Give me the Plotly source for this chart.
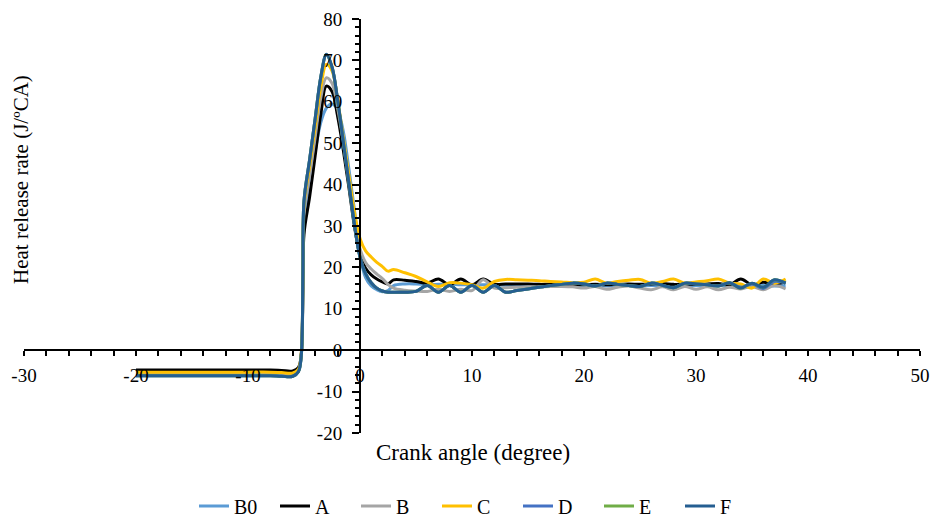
import plotly.graph_objects as go

# Crank angle grid (degree)
crank_angle = [-20, -18, -16, -14, -12, -10, -8, -7, -6, -5.5, -5.25, -5.1, -5,
               -4.5, -4, -3.5, -3, -2.5, -2, -1.5, -1, -0.5, 0,
               0.5, 1, 1.5, 2, 2.5, 3,
               4, 5, 6, 7, 8, 9, 10, 11, 12, 13, 14, 15, 16, 17, 18, 19, 20,
               21, 22, 23, 24, 25, 26, 27, 28, 29, 30, 31, 32, 33, 34, 35, 36, 37, 38]

hrr_B0 = [-6.0, -6.0, -6.0, -6.0, -6.0, -6.0, -6.0, -6.1, -6.2, -5.0, -1.5, 15, 30,
          39, 48, 55, 58.5, 59.5, 58, 53, 44, 34, 23,
          17.5, 15.5, 14.6, 14.1, 14.4, 15.6,
          16.0, 16.0, 15.9, 15.9, 15.9, 15.8, 15.8, 15.8, 15.8, 15.7, 15.7, 15.7, 15.6, 15.6, 15.6, 15.5, 15.5,
          15.6, 15.5, 15.6, 15.6, 15.5, 15.6, 15.5, 15.6, 15.5, 15.6, 15.5, 15.6, 15.5, 15.6, 15.5, 15.6, 15.5, 15.6]

hrr_A = [-4.8, -4.8, -4.8, -4.8, -4.8, -4.8, -4.8, -4.9, -5.0, -4.2, -1.0, 14, 28,
         37, 47, 57, 63.8, 62.5, 56.5, 48.5, 39.5, 30, 23,
         19.8, 18.2, 17.2, 16.5, 16.0, 17.0,
         16.9, 16.6, 16.2, 17.2, 15.8, 17.2, 15.8, 17.2, 15.9, 16.0, 16.0, 16.0, 15.9, 15.9, 15.8, 15.8, 15.8,
         15.9, 15.8, 15.9, 16.0, 15.9, 16.0, 16.1, 15.9, 16.0, 15.9, 16.0, 16.1, 15.8, 17.2, 15.8, 16.4, 16.0, 16.5]

hrr_B = [-5.5, -5.5, -5.5, -5.5, -5.5, -5.5, -5.5, -5.6, -5.7, -4.8, -1.2, 16, 33,
         42, 51.5, 61, 65.8, 64.5, 58.5, 50.5, 41.5, 32, 24.5,
         21.2, 19.6, 18.4, 17.3, 15.9, 15.0,
         14.5, 14.3, 14.2, 14.7, 14.2, 14.7, 14.4, 17.0, 15.0, 15.1, 15.2, 15.3, 15.3, 15.4, 15.4, 15.3, 15.0,
         15.4, 14.7, 15.2, 15.5, 15.0, 14.6, 15.3, 14.6, 15.4, 14.7, 15.3, 14.6, 15.2, 14.8, 15.4, 14.6, 15.6, 14.8]

hrr_C = [-5.3, -5.3, -5.3, -5.3, -5.3, -5.3, -5.3, -5.4, -5.5, -4.6, -1.0, 17, 35,
         44.5, 54, 63.5, 69, 67.5, 60.5, 51.5, 42.5, 33.5, 27,
         24, 22.5, 21.2, 20.2, 19.1, 19.5,
         18.7, 17.8, 16.5, 15.4, 16.3, 16.2, 15.8, 15.0, 16.6, 17.1, 17.0, 16.9, 16.8, 16.6, 16.5, 16.3, 16.4,
         17.2, 16.2, 16.6, 16.9, 17.1, 16.2, 16.6, 17.2, 16.2, 16.5, 16.8, 17.2, 16.2, 16.0, 15.0, 17.2, 16.2, 17.2]

hrr_D = [-6.2, -6.2, -6.2, -6.2, -6.2, -6.2, -6.2, -6.3, -6.3, -5.2, -1.5, 18, 36,
         46, 56, 66, 71.3, 68.3, 60.5, 50.5, 40.5, 30.5, 22.5,
         18.5, 16.3, 15.0, 14.3, 14.0, 14.0,
         14.0, 14.2, 15.6, 14.0, 15.6, 14.0, 15.6, 14.0, 15.6, 14.0, 14.4, 14.8, 15.2, 15.6, 15.9, 16.2, 16.0,
         15.5, 16.2, 15.9, 15.6, 15.4, 16.2, 15.7, 15.1, 16.2, 16.0, 15.8, 15.5, 16.3, 15.2, 16.0, 14.9, 16.6, 16.2]

hrr_E = [-6.2, -6.2, -6.2, -6.2, -6.2, -6.2, -6.2, -6.3, -6.3, -5.2, -1.5, 18, 36,
         46, 56, 66, 71.4, 68.4, 60.5, 50.5, 40.5, 30.5, 22.5,
         18.5, 16.3, 15.0, 14.3, 14.0, 14.0,
         14.0, 14.2, 15.6, 14.0, 15.6, 14.0, 15.6, 14.0, 15.6, 14.0, 14.4, 14.8, 15.2, 15.6, 15.9, 16.2, 16.0,
         15.5, 16.2, 15.9, 15.6, 15.4, 16.2, 15.7, 15.1, 16.2, 16.0, 15.8, 15.5, 16.3, 15.0, 16.2, 15.2, 17.0, 16.2]

hrr_F = [-6.2, -6.2, -6.2, -6.2, -6.2, -6.2, -6.2, -6.3, -6.3, -5.2, -1.5, 18, 36,
         46, 56, 66, 71.5, 68.5, 60.5, 50.5, 40.5, 30.5, 22.5,
         18.5, 16.3, 15.0, 14.3, 14.0, 14.0,
         14.0, 14.2, 15.6, 14.0, 15.6, 14.0, 15.6, 14.0, 15.6, 14.0, 14.4, 14.8, 15.2, 15.6, 15.9, 16.2, 16.0,
         15.5, 16.2, 15.9, 15.6, 15.4, 16.2, 15.7, 15.1, 16.2, 16.0, 15.8, 15.5, 16.3, 15.0, 16.2, 15.2, 17.0, 16.2]

series_names = ["B0", "A", "B", "C", "D", "E", "F"]
series_values = [hrr_B0, hrr_A, hrr_B, hrr_C, hrr_D, hrr_E, hrr_F]
series_colors = ["#5B9BD5", "#000000", "#A5A5A5", "#FFC000", "#4472C4", "#70AD47", "#255E91"]

x_ticks = [-30, -20, -10, 0, 10, 20, 30, 40, 50]
y_ticks = [-20, -10, 0, 10, 20, 30, 40, 50, 60, 70, 80]

FONT = "Liberation Serif"

W, H = 931, 519
PL, PT, PW, PH = 24, 19, 896, 414   # plot area in window pixels


def px_x(px):
    return (px - PL) / PW


def px_y(py):
    return (PT + PH - py) / PH


fig = go.Figure()
for name, vals, col in zip(series_names, series_values, series_colors):
    fig.add_trace(go.Scatter(
        x=crank_angle, y=vals, name=name, mode="lines",
        line=dict(color=col, width=3, shape="spline", smoothing=1.0),
    ))

axis_common = dict(
    showgrid=False, zeroline=False, showline=True, linecolor="black", linewidth=2,
    ticks="outside", tickcolor="black", tickwidth=1.5,
    tickfont=dict(family=FONT, size=19, color="black"),
    anchor="free", automargin=False,
)

fig.update_layout(
    width=W, height=H,
    margin=dict(l=PL, r=W - PL - PW, t=PT, b=H - PT - PH, autoexpand=False),
    paper_bgcolor="white", plot_bgcolor="white",
    font=dict(family=FONT, color="black"),
    showlegend=True,
    legend=dict(
        orientation="h", x=px_x(194), xanchor="left",
        y=px_y(506), yanchor="middle",
        font=dict(family=FONT, size=20, color="black"),
        entrywidth=36, entrywidthmode="pixels",
        bgcolor="rgba(0,0,0,0)",
    ),
    xaxis=dict(
        axis_common, range=[-30, 50], tickmode="array", tickvals=x_ticks,
        ticktext=[str(v) for v in x_ticks], ticklen=5, position=0.2,
        minor=dict(dtick=2, tick0=0, ticks="outside", ticklen=5, tickwidth=1.5, tickcolor="black"),
        ticklabelstandoff=3,
    ),
    yaxis=dict(
        axis_common, range=[-20, 80], tickmode="array", tickvals=y_ticks,
        ticktext=[str(v) for v in y_ticks], ticklen=7, position=30 / 80,
        minor=dict(dtick=2, tick0=0, ticks="outside", ticklen=4, tickwidth=1.5, tickcolor="black"),
        ticklabelstandoff=6,
    ),
    annotations=[
        dict(text="Crank angle (degree)", xref="paper", yref="paper",
             x=px_x(473), y=px_y(452), xanchor="center", yanchor="middle",
             showarrow=False, font=dict(family=FONT, size=23, color="black")),
        dict(text="Heat release rate (J/ºCA)", xref="paper", yref="paper",
             x=px_x(21), y=px_y(180), xanchor="center", yanchor="middle",
             textangle=-90, showarrow=False, font=dict(family=FONT, size=21, color="black")),
    ],
)

fig.write_html("out.html", config={"displayModeBar": False},
               post_script="document.body.style.margin='0';document.body.style.overflow='hidden';")
